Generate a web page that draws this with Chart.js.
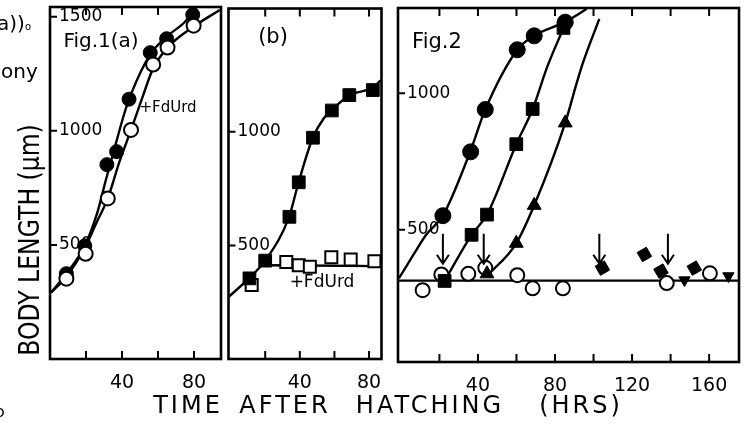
<!DOCTYPE html>
<html>
<head>
<meta charset="utf-8">
<script src="https://cdn.jsdelivr.net/npm/chart.js@4.4.1/dist/chart.umd.min.js"></script>
<style>
  html, body { margin: 0; padding: 0; background: #fff; }
  body { width: 746px; height: 424px; position: relative; overflow: hidden;
         font-family: "DejaVu Sans", sans-serif; color: #000; }
  canvas { position: absolute; }
  .txt { position: absolute; white-space: nowrap; line-height: 1; transform: translate(-50%, -50%); }
  .word { position: absolute; white-space: nowrap; line-height: 1; font-size: 24px; letter-spacing: 3px;
          transform: translate(-50%, -50%); }
</style>
</head>
<body>
<canvas id="fig1a"></canvas>
<canvas id="fig1b"></canvas>
<canvas id="fig2"></canvas>

<!-- panel labels -->
<div class="txt" style="left:101px;top:40px;font-size:20px">Fig.1(a)</div>
<div class="txt" style="left:168px;top:107px;font-size:15px">+FdUrd</div>
<div class="txt" style="left:273px;top:36px;font-size:21px">(b)</div>
<div class="txt" style="left:322px;top:281px;font-size:17px">+FdUrd</div>
<div class="txt" style="left:437px;top:41px;font-size:21px">Fig.2</div>

<!-- axis titles -->
<div class="txt" style="left:30px;top:240px;font-size:28px;transform:translate(-50%,-50%) rotate(-90deg) scaleX(0.84)">BODY LENGTH (μm)</div>
<div class="word" style="left:188px;top:405px">TIME</div>
<div class="word" style="left:285px;top:405px">AFTER</div>
<div class="word" style="left:430px;top:405px">HATCHING</div>
<div class="word" style="left:581px;top:405px">(HRS)</div>

<!-- bits of the neighbouring page -->
<div style="position:absolute;left:-3px;top:13px;font-size:20px;line-height:1">a))<span style="font-size:10px">o</span></div>
<div style="position:absolute;left:1px;top:61px;font-size:20px;line-height:1">ony</div>
<div style="position:absolute;left:-4px;top:404px;font-size:16px;line-height:1">ɔ</div>

<script>
// ---- Fig. 1(a): control (filled circles) and +FdUrd (open circles)
const a_ctrl_x = [9.1, 19.3, 31.6, 37, 43.9, 55.7, 64.8, 79.3];
const a_ctrl_y = [374, 496, 852, 909, 1139, 1343, 1404, 1509];
const a_fd_x = [9.1, 19.8, 32.1, 45, 57.3, 65.3, 79.8];
const a_fd_y = [352, 461, 704, 1004, 1291, 1365, 1461];
const a_ctrl_fit_x = [0.5, 9.1, 19.3, 26.2, 31.1, 36.4, 41.2, 45, 55.7, 64.8, 74.5, 81.4];
const a_ctrl_fit_y = [291, 374, 496, 639, 787, 939, 1074, 1161, 1335, 1413, 1474, 1539];
const a_fd_fit_x = [0.5, 9.1, 19.3, 26.2, 32.1, 38.6, 45, 51.4, 57.3, 65.3, 79.8, 94.3];
const a_fd_fit_y = [291, 361, 487, 604, 704, 865, 1004, 1148, 1274, 1365, 1457, 1530];

// ---- Fig. 1(b): control (filled squares) and +FdUrd (open squares)
const b_ctrl_x = [10.9, 20, 34, 39.4, 47.6, 58.5, 68.6, 82.2];
const b_ctrl_y = [355, 433, 626, 778, 974, 1094, 1162, 1184];
const b_fd_x = [12.2, 32.2, 39.4, 45.8, 58.2, 69.4, 83.1];
const b_fd_y = [326, 427, 413, 406, 448, 438, 430];
const b_ctrl_fit_x = [-1.6, 10.9, 20.2, 33.8, 39.3, 47.5, 54, 62.2, 68.7, 82.4, 86.7];
const b_ctrl_fit_y = [270, 357, 435, 626, 778, 974, 1061, 1122, 1161, 1196, 1226];
const b_fd_fit_x = [20.2, 87];
const b_fd_fit_y = [413, 409];

// ---- Fig. 2
const c_circ_x = [21.8, 36.2, 43.8, 60.4, 69.2, 85.3];
const c_circ_y = [551, 785, 940, 1159, 1210, 1260];
const c_sq_x = [22.7, 36.7, 44.7, 59.9, 68.4, 84.4];
const c_sq_y = [312, 481, 555, 813, 942, 1239];
const c_tri_x = [44.7, 59.9, 69.2, 85.3];
const c_tri_y = [338, 450, 589, 891];
const c_open_x = [11.3, 21, 35, 43.8, 60.4, 68.4, 84.1, 138, 160.4];
const c_open_y = [278, 336, 338, 360, 333, 285, 285, 304, 340];
const c_dia_x = [104.6, 126.4, 135, 152.3];
const c_dia_y = [359, 409, 348, 359];
const c_inv_x = [147.2, 170];
const c_inv_y = [315, 330];
const c_circ_fit_x = [-1, 6.6, 13.2, 21.8, 36, 43.7, 60.4, 69, 85.3, 96.4];
const c_circ_fit_y = [322, 409, 482, 551, 786, 938, 1159, 1210, 1261, 1308];
const c_sq_fit_x = [22.7, 36.7, 44.7, 59.9, 68.4, 76, 84.4, 86.5];
const c_sq_fit_y = [312, 481, 555, 813, 942, 1097, 1239, 1275];
const c_tri_fit_x = [44.7, 59.9, 69.2, 85.3, 91.2, 94.4, 103];
const c_tri_fit_y = [330, 450, 589, 891, 1036, 1109, 1272];
const c_base_x = [-1.5, 175.5];
const c_base_y = [313, 313];
// arrows (time, from value, to value)
const arrow_x = [21.8, 43, 103, 138.6];
const arrow_top = 485;
const arrow_tip = 375;

// tick positions
const ticks_x_fig1 = [20, 40, 60, 80];
const ticks_x_fig2 = [20, 40, 60, 80, 100, 120, 140, 160];
const ticks_y_a = [500, 1000, 1500];
const ticks_y_b = [500, 1000];
const ticks_y_c = [500, 1000];

const PAD = 6, AXIS_H = 40;
const FONT = 'DejaVu Sans';

const pts = (xs, ys) => xs.map((x, i) => ({ x: x, y: ys[i] }));

function marks(xs, ys, style, r, fill, rot) {
  return {
    data: pts(xs, ys), showLine: false,
    pointStyle: style, pointRadius: r, pointRotation: rot || 0,
    pointBackgroundColor: fill, pointBorderColor: '#000',
    pointBorderWidth: fill === '#fff' ? 2 : 1
  };
}

function curve(xs, ys) {
  return {
    data: pts(xs, ys), showLine: true, pointRadius: 0,
    borderColor: '#000', borderWidth: 2.4,
    cubicInterpolationMode: 'monotone', fill: false
  };
}

// frame, inward tick marks and the arrows of Fig. 2
const framePlugin = {
  id: 'frame',
  afterDatasetsDraw(chart, args, opts) {
    const { ctx, chartArea: a, scales: { x, y } } = chart;
    ctx.save();
    ctx.strokeStyle = '#000';
    ctx.lineWidth = 2.6;
    ctx.strokeRect(a.left, a.top, a.right - a.left, a.bottom - a.top);
    ctx.lineWidth = 2;
    ctx.beginPath();
    x.ticks.forEach(t => {
      const px = x.getPixelForValue(t.value);
      ctx.moveTo(px, a.bottom); ctx.lineTo(px, a.bottom - 8);
      ctx.moveTo(px, a.top); ctx.lineTo(px, a.top + 8);
    });
    y.ticks.forEach(t => {
      const py = y.getPixelForValue(t.value);
      ctx.moveTo(a.left, py); ctx.lineTo(a.left + 7, py);
    });
    ctx.stroke();
    if (opts.arrows) {
      ctx.lineWidth = 2;
      ctx.beginPath();
      opts.arrows.forEach(v => {
        const px = x.getPixelForValue(v);
        const p0 = y.getPixelForValue(arrow_top);
        const p1 = y.getPixelForValue(arrow_tip);
        ctx.moveTo(px, p0); ctx.lineTo(px, p1);
        ctx.moveTo(px - 6, p1 - 9); ctx.lineTo(px, p1); ctx.lineTo(px + 6, p1 - 9);
      });
      ctx.stroke();
    }
    ctx.restore();
  }
};

function makePanel(id, box, xr, yr, xTicks, yTicks, datasets, arrows) {
  const cv = document.getElementById(id);
  const w = box.right - box.left + 2 * PAD;
  const h = box.bottom - box.top + PAD + AXIS_H;
  cv.width = w; cv.height = h;
  cv.style.width = w + 'px'; cv.style.height = h + 'px';
  cv.style.left = (box.left - PAD) + 'px';
  cv.style.top = (box.top - PAD) + 'px';

  return new Chart(cv, {
    type: 'scatter',
    data: { datasets: datasets },
    options: {
      responsive: false,
      animation: false,
      events: [],
      layout: { padding: { left: PAD, right: PAD, top: PAD, bottom: 0 } },
      plugins: { legend: { display: false }, tooltip: { enabled: false }, frame: { arrows: arrows } },
      scales: {
        x: {
          type: 'linear', min: xr[0], max: xr[1],
          grid: { display: false }, border: { display: false },
          afterBuildTicks: s => { s.ticks = xTicks.map(v => ({ value: v })); },
          afterFit: s => { s.height = AXIS_H; s.paddingLeft = 0; s.paddingRight = 0; },
          ticks: {
            autoSkip: false, maxRotation: 0, padding: 5, color: '#000',
            font: { family: FONT, size: 19 },
            callback: v => (v % 40 === 0 ? String(v) : '')
          }
        },
        y: {
          type: 'linear', min: yr[0], max: yr[1],
          grid: { display: false }, border: { display: false },
          afterBuildTicks: s => { s.ticks = yTicks.map(v => ({ value: v })); },
          afterFit: s => { s.width = 0; s.paddingTop = 0; s.paddingBottom = 0; },
          ticks: {
            mirror: true, padding: 9, color: '#000',
            font: { family: FONT, size: 17 },
            callback: v => String(v)
          }
        }
      }
    },
    plugins: [framePlugin]
  });
}

makePanel('fig1a', { left: 47, top: 4, right: 224, bottom: 359 }, [0, 95], [0, 1543],
  ticks_x_fig1, ticks_y_a, [
    marks(a_fd_x, a_fd_y, 'circle', 7, '#fff'),
    marks(a_ctrl_x, a_ctrl_y, 'circle', 7, '#000'),
    curve(a_ctrl_fit_x, a_ctrl_fit_y),
    curve(a_fd_fit_x, a_fd_fit_y)
  ]);

makePanel('fig1b', { left: 224, top: 4, right: 386, bottom: 359 }, [-1.2, 87.2], [0, 1543],
  ticks_x_fig1, ticks_y_b, [
    marks(b_ctrl_x, b_ctrl_y, 'rect', 9, '#000'),
    marks(b_fd_x, b_fd_y, 'rect', 8.5, '#fff'),
    curve(b_ctrl_fit_x, b_ctrl_fit_y),
    curve(b_fd_fit_x, b_fd_fit_y)
  ]);

makePanel('fig2', { left: 394, top: 4, right: 743, bottom: 362 }, [-1.5, 175.5], [15, 1312],
  ticks_x_fig2, ticks_y_c, [
    marks(c_sq_x, c_sq_y, 'rect', 9, '#000'),
    marks(c_circ_x, c_circ_y, 'circle', 8, '#000'),
    marks(c_tri_x, c_tri_y, 'triangle', 8, '#000'),
    marks(c_dia_x, c_dia_y, 'rectRot', 7.5, '#000', 15),
    marks(c_inv_x, c_inv_y, 'triangle', 6.5, '#000', 180),
    marks(c_open_x, c_open_y, 'circle', 7, '#fff'),
    curve(c_circ_fit_x, c_circ_fit_y),
    curve(c_sq_fit_x, c_sq_fit_y),
    curve(c_tri_fit_x, c_tri_fit_y),
    curve(c_base_x, c_base_y)
  ], arrow_x);
</script>
</body>
</html>
